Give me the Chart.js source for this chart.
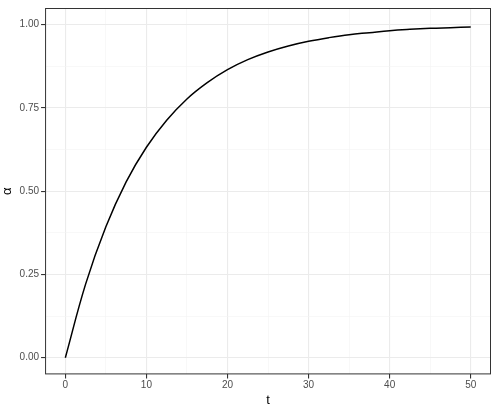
<!DOCTYPE html>
<html>
<head>
<script src="https://cdn.jsdelivr.net/npm/chart.js@4"></script>
<style>
  body { margin: 0; background: #fff; }
  #wrap { width: 492px; height: 406px; }
</style>
</head>
<body>
<div id="wrap"><canvas id="c"></canvas></div>
<script>
// values
const tValues = [0, 2.5, 5, 7.5, 10, 12.5, 15, 17.5, 20, 22.5, 25, 27.5, 30, 32.5, 35, 37.5, 40, 42.5, 45, 47.5, 50];
const alphaValues = [0, 0.221, 0.393, 0.528, 0.632, 0.713, 0.777, 0.826, 0.865, 0.895, 0.918, 0.936, 0.950, 0.961, 0.970, 0.976, 0.982, 0.986, 0.989, 0.991, 0.993];
const xTicks = [0, 5, 10, 15, 20, 25, 30, 35, 40, 45, 50];
const yTicks = [0, 0.125, 0.25, 0.375, 0.5, 0.625, 0.75, 0.875, 1];

const points = tValues.map((t, i) => ({ x: t, y: alphaValues[i] }));

// panel border like ggplot theme_bw
const panelBorder = {
  id: 'panelBorder',
  afterDraw(chart) {
    const a = chart.chartArea, ctx = chart.ctx;
    ctx.save();
    ctx.strokeStyle = '#333';
    ctx.lineWidth = 1;
    ctx.strokeRect(a.left + 0.5, a.top + 0.5, a.width - 1, a.height - 1);
    ctx.restore();
  }
};

const isMajor = (v, step) => Math.abs(v / step - Math.round(v / step)) < 1e-6;

new Chart(document.getElementById('c'), {
  type: 'line',
  data: {
    datasets: [{
      data: points,
      borderColor: '#000',
      borderWidth: 1.5,
      pointRadius: 0,
      tension: 0.4,
      fill: false
    }]
  },
  options: {
    responsive: true,
    maintainAspectRatio: false,
    animation: false,
    layout: { padding: { top: -3, right: 1, left: 0, bottom: -2 } },
    plugins: { legend: { display: false }, tooltip: { enabled: false } },
    scales: {
      x: {
        type: 'linear',
        min: -2.5,
        max: 52.5,
        afterBuildTicks: (s) => { s.ticks = xTicks.map(v => ({ value: v })); },
        grid: {
          color: (c) => isMajor(c.tick.value, 10) ? '#ebebeb' : '#f4f4f4',
          lineWidth: (c) => isMajor(c.tick.value, 10) ? 1.1 : 0.6,
          tickColor: (c) => isMajor(c.tick.value, 10) ? '#333' : 'rgba(0,0,0,0)',
          tickLength: 4
        },
        border: { display: false },
        ticks: {
          autoSkip: false,
          maxRotation: 0,
          color: '#4d4d4d',
          font: { family: 'Liberation Sans', size: 10 },
          padding: 1,
          callback: (v) => isMajor(v, 10) ? String(v) : ''
        },
        title: { display: true, text: 't', color: '#000', font: { family: 'Liberation Sans', size: 13 }, padding: { top: 0, bottom: 0 } }
      },
      y: {
        type: 'linear',
        min: -0.05,
        max: 1.05,
        afterBuildTicks: (s) => { s.ticks = yTicks.map(v => ({ value: v })); },
        grid: {
          color: (c) => isMajor(c.tick.value, 0.25) ? '#ebebeb' : '#f4f4f4',
          lineWidth: (c) => isMajor(c.tick.value, 0.25) ? 1.1 : 0.6,
          tickColor: (c) => isMajor(c.tick.value, 0.25) ? '#333' : 'rgba(0,0,0,0)',
          tickLength: 4
        },
        border: { display: false },
        ticks: {
          autoSkip: false,
          color: '#4d4d4d',
          font: { family: 'Liberation Sans', size: 10 },
          padding: 2,
          callback: (v) => isMajor(v, 0.25) ? v.toFixed(2) : ''
        },
        title: { display: true, text: 'α', color: '#000', font: { family: 'Liberation Sans', size: 13 }, padding: { top: 0, bottom: 2 } }
      }
    }
  },
  plugins: [panelBorder]
});
</script>
</body>
</html>
